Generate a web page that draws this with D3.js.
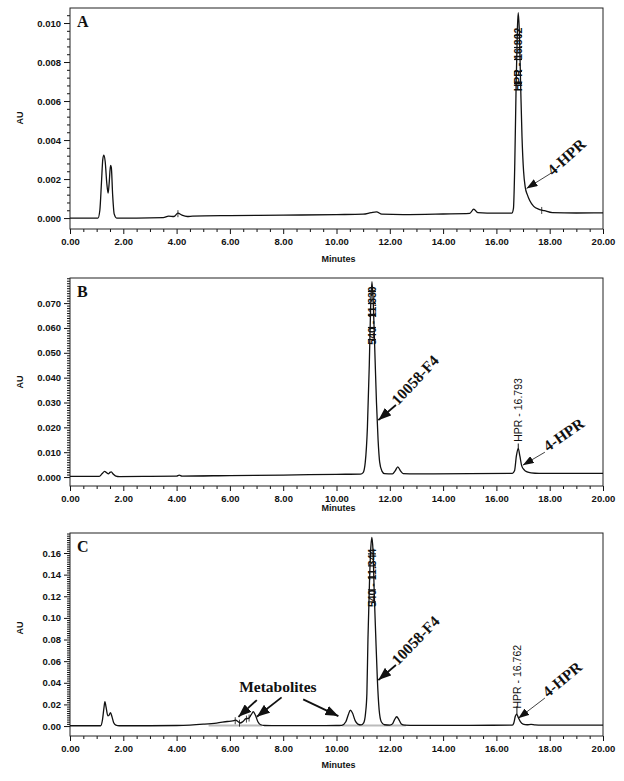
<!DOCTYPE html>
<html>
<head>
<meta charset="utf-8">
<script src="https://cdn.jsdelivr.net/npm/d3@7"></script>
<style>
  body { margin: 0; background: #fff; }
  svg text { font-family: "Liberation Sans", Arial, sans-serif; fill: #111; }
  .tick text { font-size: 9.5px; font-weight: bold; }
  .axis-title { font-size: 9px; font-weight: bold; }
  .serif { font-family: "Liberation Serif", "Times New Roman", serif; font-weight: bold; }
</style>
</head>
<body>
<svg id="chart" width="624" height="781"></svg>
<script>
(function (d3) {
  "use strict";

  /***** Data: [minutes, AU] *****/
  var traceA = [
    [0, 0], [1.05, 0], [1.12, 0.0004], [1.18, 0.0018], [1.23, 0.0030], [1.27, 0.00323],
    [1.32, 0.0029], [1.38, 0.0018], [1.43, 0.00128], [1.47, 0.0018], [1.52, 0.0027],
    [1.55, 0.0026], [1.60, 0.0012], [1.66, 0.0002], [1.75, 0], [2.5, 0], [3.5, 0.00002],
    [3.7, 0.0001], [3.9, 0.00008], [4.05, 0.00025], [4.2, 0.00015], [4.4, 0.00008],
    [4.6, 0.0001], [6, 0.00013], [8, 0.00015], [10, 0.00018], [11.0, 0.0002],
    [11.3, 0.00028], [11.5, 0.00032], [11.7, 0.0002], [12.5, 0.00018], [14, 0.00021],
    [15.0, 0.00024], [15.15, 0.00046], [15.3, 0.00028], [16, 0.00025], [16.58, 0.00025],
    [16.64, 0.0005], [16.69, 0.0028], [16.74, 0.0068], [16.79, 0.0098], [16.82, 0.01053],
    [16.86, 0.0096], [16.91, 0.0068], [16.96, 0.0042], [17.02, 0.0024], [17.08, 0.0016],
    [17.16, 0.0012], [17.25, 0.0009], [17.4, 0.0006], [17.6, 0.00045], [17.8, 0.00038],
    [18.1, 0.00028], [19, 0.00026], [20, 0.00027]
  ];
  var traceB = [
    [0, 0.0003], [1.1, 0.0003], [1.2, 0.0013], [1.3, 0.0023], [1.38, 0.0017], [1.44, 0.0013],
    [1.5, 0.0019], [1.55, 0.0021], [1.62, 0.0012], [1.72, 0.0004], [1.85, 0.0002], [3, 0.0003],
    [4.0, 0.0004], [4.1, 0.0008], [4.2, 0.0004], [6, 0.0006], [8, 0.0008], [10, 0.0011],
    [10.9, 0.0012], [11.0, 0.0018], [11.08, 0.006], [11.16, 0.020], [11.23, 0.045],
    [11.28, 0.068], [11.33, 0.0786], [11.38, 0.070], [11.44, 0.050], [11.5, 0.030],
    [11.56, 0.015], [11.62, 0.006], [11.7, 0.0025], [11.8, 0.0014], [12.1, 0.0013],
    [12.2, 0.0025], [12.3, 0.0041], [12.4, 0.0025], [12.5, 0.0014], [13, 0.0013],
    [15, 0.0014], [16.6, 0.0015], [16.68, 0.0025], [16.75, 0.0085], [16.82, 0.0115],
    [16.88, 0.0085], [16.95, 0.0045], [17.05, 0.0028], [17.15, 0.0021], [17.3, 0.0017],
    [17.6, 0.0015], [20, 0.0015]
  ];
  var traceC = [
    [0, 0.0003], [1.15, 0.0003], [1.22, 0.006], [1.28, 0.018], [1.31, 0.0225], [1.35, 0.018],
    [1.42, 0.0095], [1.46, 0.0098], [1.52, 0.0123], [1.57, 0.009], [1.64, 0.003],
    [1.72, 0.0008], [1.85, 0.0003], [3, 0.0003], [4, 0.0005], [4.5, 0.0009], [5, 0.0017],
    [5.5, 0.0028], [5.9, 0.0042], [6.1, 0.0048], [6.22, 0.0055], [6.3, 0.0042],
    [6.38, 0.0028], [6.48, 0.004], [6.6, 0.0068], [6.7, 0.0072], [6.8, 0.0105],
    [6.88, 0.0132], [6.95, 0.0105], [7.05, 0.004], [7.15, 0.0012], [7.3, 0.0005],
    [8, 0.0004], [9, 0.0004], [10, 0.0005], [10.2, 0.0007], [10.35, 0.004], [10.45, 0.011],
    [10.52, 0.0148], [10.6, 0.012], [10.7, 0.005], [10.8, 0.0018], [10.92, 0.001],
    [11.02, 0.003], [11.09, 0.012], [11.14, 0.03], [11.18, 0.08], [11.24, 0.135],
    [11.29, 0.166], [11.33, 0.1745], [11.37, 0.162], [11.42, 0.12], [11.47, 0.085],
    [11.53, 0.045], [11.6, 0.015], [11.68, 0.004], [11.8, 0.0012], [12.0, 0.0008],
    [12.1, 0.002], [12.18, 0.006], [12.26, 0.0086], [12.34, 0.006], [12.43, 0.002],
    [12.55, 0.0008], [13, 0.0006], [15, 0.0007], [16.6, 0.0008], [16.65, 0.0025],
    [16.71, 0.009], [16.76, 0.0111], [16.82, 0.008], [16.9, 0.004], [17.0, 0.0018],
    [17.15, 0.0012], [17.3, 0.0016], [17.45, 0.001], [17.7, 0.0008], [20, 0.0008]
  ];

  // integration marks (minutes) and shaded baseline segments
  var marksA = [4.05, 17.7];
  var marksC = [6.2, 6.36, 6.62, 6.72];
  var baselineC = [[5.2, 7.2], [10.2, 12.6]];

  /***** Tick values *****/
  var xMajor = [0, 2, 4, 6, 8, 10, 12, 14, 16, 18, 20];
  var yMajorA = [0, 0.002, 0.004, 0.006, 0.008, 0.010];
  var yMajorB = [0, 0.010, 0.020, 0.030, 0.040, 0.050, 0.060, 0.070];
  var yMajorC = [0, 0.02, 0.04, 0.06, 0.08, 0.10, 0.12, 0.14, 0.16];

  /***** Annotations *****/
  var notesA = [{ text: "4-HPR", at: [18.12, 0.00215], angle: -42, tip: [17.13, 0.00152], tail: [18.05, 0.0023], heavy: false }];
  var notesB = [
    { text: "10058-F4", at: [12.31, 0.0286], angle: -47, tip: [11.57, 0.0229], tail: [12.23, 0.029], heavy: true },
    { text: "4-HPR", at: [17.94, 0.0101], angle: -35, tip: [16.99, 0.0048], tail: [17.82, 0.0100], heavy: false }
  ];
  var notesC = [
    { text: "10058-F4", at: [12.31, 0.0555], angle: -46, tip: [11.57, 0.0425], tail: [12.23, 0.0564], heavy: true },
    { text: "4-HPR", at: [17.94, 0.0259], angle: -40, tip: [16.82, 0.0071], tail: [17.82, 0.0259], heavy: false },
    { text: "Metabolites", at: [7.80, 0.0314], angle: 0, anchor: "middle" },
    { tip: [6.32, 0.0085], tail: [7.01, 0.024], heavy: true },
    { tip: [7.01, 0.0086], tail: [7.94, 0.0265], heavy: true },
    { tip: [10.07, 0.0092], tail: [8.75, 0.0247], heavy: true }
  ];
  var peakLabelsA = [{ text: "HPR - 16.802", t: 16.81, v: 0.00813, smear: true }];
  var peakLabelsB = [
    { text: "540 - 11.330", t: 11.33, v: 0.065, smear: true },
    { text: "HPR - 16.793", t: 16.82, v: 0.027, stem: [0.0135, 0.0115] }
  ];
  var peakLabelsC = [
    { text: "540 - 11.344", t: 11.33, v: 0.137, smear: true },
    { text: "HPR - 16.762", t: 16.77, v: 0.0456, stem: [0.0183, 0.0111] }
  ];

  /***** Layout *****/
  var left = 70, right = 603;
  var panels = [
    { letter: "A", trace: traceA, top: 8, bottom: 229, domain: [-0.00056, 0.01077], major: yMajorA, minorStep: 0.0004, fmt: ".3f", notes: notesA, peaks: peakLabelsA, marks: marksA, shade: [], minutesY: 262, auY: 118 },
    { letter: "B", trace: traceB, top: 278, bottom: 486, domain: [-0.0036, 0.0801], major: yMajorB, minorStep: 0.001, fmt: ".3f", notes: notesB, peaks: peakLabelsB, marks: [], shade: [], minutesY: 511, auY: 382 },
    { letter: "C", trace: traceC, top: 533, bottom: 736, domain: [-0.0092, 0.1785], major: yMajorC, minorStep: 0.002, fmt: ".2f", notes: notesC, peaks: peakLabelsC, marks: marksC, shade: baselineC, minutesY: 768, auY: 628 }
  ];

  var svg = d3.select("#chart");

  function marker(id, w, h) {
    svg.append("defs").append("marker")
      .attr("id", id)
      .attr("markerUnits", "userSpaceOnUse")
      .attr("markerWidth", w).attr("markerHeight", h)
      .attr("refX", w).attr("refY", h / 2)
      .attr("orient", "auto")
      .append("path")
      .attr("d", "M0,0L" + w + "," + h / 2 + "L0," + h + "Z")
      .attr("fill", "#111");
  }
  marker("head-heavy", 13, 10);
  marker("head-light", 11, 8);

  var x = d3.scaleLinear().domain([0, 20]).range([left, right]);
  var xMinor = d3.range(0, 20.01, 0.5).filter(function (d) { return d % 2 !== 0; });

  panels.forEach(function (p) {
    var y = d3.scaleLinear().domain(p.domain).range([p.bottom, p.top]);
    var g = svg.append("g");

    // minor then major ticks
    var yMinor = d3.range(0, p.domain[1], p.minorStep).filter(function (d) {
      return !p.major.some(function (m) { return Math.abs(m - d) < 1e-9; });
    });
    g.append("g").attr("transform", "translate(" + left + ",0)")
      .call(d3.axisLeft(y).tickValues(yMinor).tickSize(3).tickFormat(""))
      .call(function (a) { a.select(".domain").remove(); });
    g.append("g").attr("transform", "translate(" + left + ",0)")
      .call(d3.axisLeft(y).tickValues(p.major).tickSize(6).tickPadding(3).tickFormat(d3.format(p.fmt)))
      .call(function (a) { a.select(".domain").remove(); });
    g.append("g").attr("transform", "translate(0," + p.bottom + ")")
      .call(d3.axisBottom(x).tickValues(xMinor).tickSize(3).tickFormat(""))
      .call(function (a) { a.select(".domain").remove(); });
    g.append("g").attr("transform", "translate(0," + p.bottom + ")")
      .call(d3.axisBottom(x).tickValues(xMajor).tickSize(5).tickPadding(4).tickFormat(d3.format(".2f")))
      .call(function (a) { a.select(".domain").remove(); });
    g.selectAll(".tick line").attr("stroke", "#111");

    // frame
    g.append("rect")
      .attr("x", left).attr("y", p.top)
      .attr("width", right - left).attr("height", p.bottom - p.top)
      .attr("fill", "none").attr("stroke", "#222").attr("stroke-width", 1);

    // shaded integration baseline
    p.shade.forEach(function (s) {
      g.append("line")
        .attr("x1", x(s[0])).attr("x2", x(s[1]))
        .attr("y1", y(0.0004)).attr("y2", y(0.0004))
        .attr("stroke", "#bbb").attr("stroke-width", 2);
    });

    // trace
    var line = d3.line()
      .x(function (d) { return x(d[0]); })
      .y(function (d) { return y(d[1]); })
      .curve(d3.curveMonotoneX);
    g.append("path")
      .datum(p.trace)
      .attr("d", line)
      .attr("fill", "none")
      .attr("stroke", "#111")
      .attr("stroke-width", 1.3);

    // small integration marks on the trace
    var interp = function (t) {
      var i = d3.bisector(function (d) { return d[0]; }).left(p.trace, t);
      var a = p.trace[Math.max(0, i - 1)], b = p.trace[Math.min(p.trace.length - 1, i)];
      if (a[0] === b[0]) return a[1];
      return a[1] + (b[1] - a[1]) * (t - a[0]) / (b[0] - a[0]);
    };
    p.marks.forEach(function (t) {
      var yy = y(interp(t));
      g.append("line")
        .attr("x1", x(t)).attr("x2", x(t))
        .attr("y1", yy - 3).attr("y2", yy + 4)
        .attr("stroke", "#111").attr("stroke-width", 0.8);
    });

    // vertical peak labels
    p.peaks.forEach(function (pk) {
      var px = x(pk.t), py = y(pk.v);
      g.append("text")
        .attr("transform", "translate(" + (px + 4) + "," + py + ") rotate(-90)")
        .attr("text-anchor", "middle")
        .style("font-size", "10.5px")
        .style("font-weight", pk.smear ? "bold" : "normal")
        .text(pk.text);
      if (pk.smear) {
        [-24, -12, 0, 12, 24].forEach(function (dy) {
          g.append("line")
            .attr("x1", px - 4).attr("x2", px + 4)
            .attr("y1", py + dy).attr("y2", py + dy)
            .attr("stroke", "#111").attr("stroke-width", 1.2);
        });
      }
      if (pk.stem) {
        g.append("line")
          .attr("x1", px).attr("x2", px)
          .attr("y1", y(pk.stem[0])).attr("y2", y(pk.stem[1]))
          .attr("stroke", "#111").attr("stroke-width", 1);
      }
    });

    // arrows and annotation text
    p.notes.forEach(function (n) {
      if (n.tip) {
        g.append("line")
          .attr("x1", x(n.tail[0])).attr("y1", y(n.tail[1]))
          .attr("x2", x(n.tip[0])).attr("y2", y(n.tip[1]))
          .attr("stroke", "#111")
          .attr("stroke-width", n.heavy ? 1.8 : 0.8)
          .attr("marker-end", n.heavy ? "url(#head-heavy)" : "url(#head-light)");
      }
      if (n.text) {
        g.append("text")
          .attr("class", "serif")
          .attr("transform", "translate(" + x(n.at[0]) + "," + y(n.at[1]) + ") rotate(" + n.angle + ")")
          .attr("text-anchor", n.anchor || "start")
          .style("font-size", "15.5px")
          .text(n.text);
      }
    });

    // panel letter and axis titles
    g.append("text")
      .attr("class", "serif")
      .attr("x", left + 7).attr("y", p.top + 19)
      .style("font-size", "16px")
      .text(p.letter);
    g.append("text")
      .attr("class", "axis-title")
      .attr("x", (left + right) / 2 + 2).attr("y", p.minutesY)
      .attr("text-anchor", "middle")
      .text("Minutes");
    g.append("text")
      .attr("class", "axis-title")
      .attr("transform", "translate(23," + p.auY + ") rotate(-90)")
      .attr("text-anchor", "middle")
      .text("AU");
  });
})(d3);
</script>
</body>
</html>
